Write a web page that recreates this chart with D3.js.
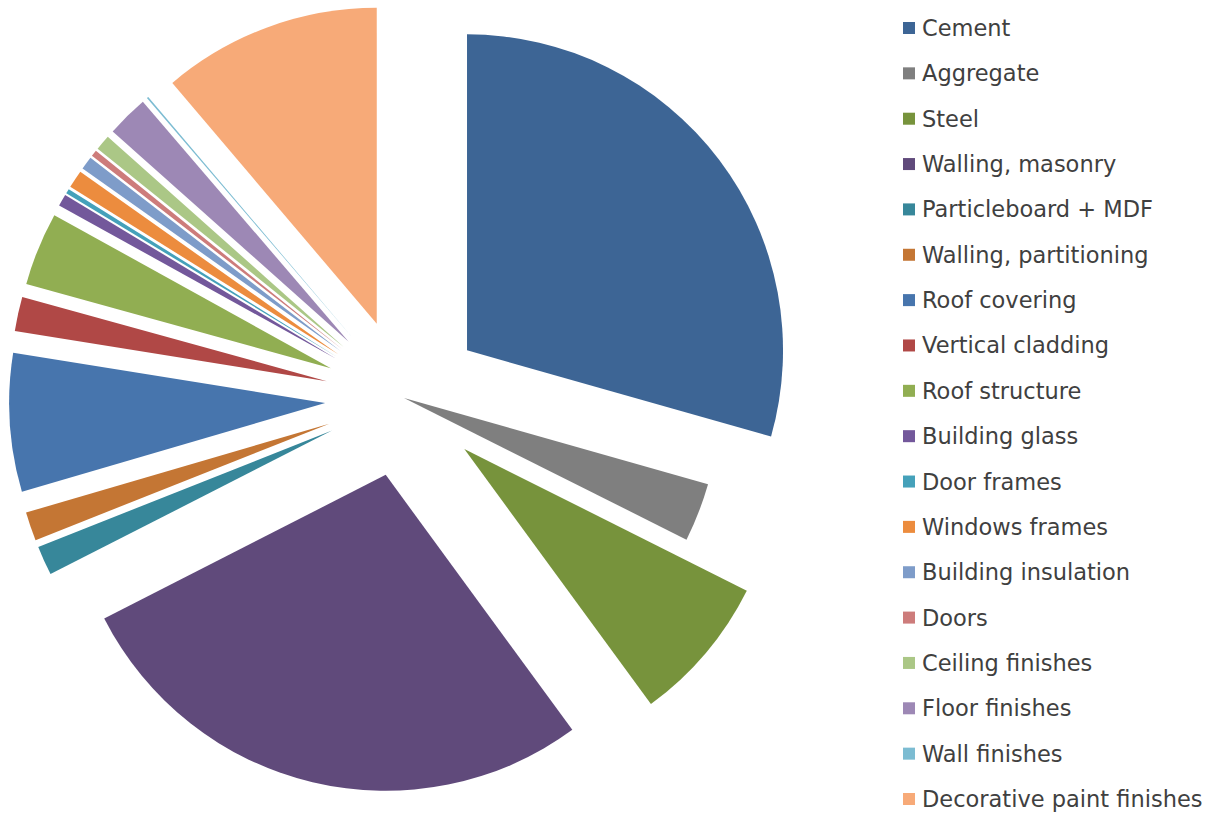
<!DOCTYPE html>
<html>
<head>
<meta charset="utf-8">
<script src="https://cdn.jsdelivr.net/npm/d3@7"></script>
<style>
  html, body { margin: 0; padding: 0; background: #ffffff; }
  svg { display: block; }
  .legend text { font-family: "DejaVu Sans", sans-serif; font-size: 22.5px; fill: #404040; }
</style>
</head>
<body>
<svg id="chart" width="1209" height="814"></svg>
<script>
// Embodied-energy share per material group (% of total)
const categories = [
  "Cement", "Aggregate", "Steel", "Walling, masonry", "Particleboard + MDF",
  "Walling, partitioning", "Roof covering", "Vertical cladding", "Roof structure",
  "Building glass", "Door frames", "Windows frames", "Building insulation",
  "Doors", "Ceiling finishes", "Floor finishes", "Wall finishes",
  "Decorative paint finishes"
];
const shares = [
  29.4, 3.0, 7.55, 27.55, 1.5,
  1.47, 7.08, 1.75, 3.75,
  0.61, 0.24, 0.91, 0.67,
  0.32, 0.79, 2.13, 0.09,
  11.2
];
const colors = [
  "#3d6595", "#7f7f7f", "#77933c", "#604a7b", "#37879a",
  "#c47634", "#4775ad", "#b04846", "#91ae52",
  "#73589b", "#45a1ba", "#ec8c3e", "#7e9cc9",
  "#cd7c7b", "#abc786", "#9d88b5", "#7cbcd2",
  "#f7aa78"
];
// Slice pull-out, as a fraction of the radius
const explode = [
  0.25, 0, 0.25, 0.25, 0.25,
  0.25, 0.25, 0.25, 0.25,
  0.25, 0.25, 0.25, 0.25,
  0.25, 0.25, 0.25, 0.25,
  0.25
];

const svg = d3.select("#chart");
const cx = 404, cy = 398, R = 316;

const pie = d3.pie().sort(null).value(d => d.value).startAngle(0).endAngle(2 * Math.PI);
const arc = d3.arc().innerRadius(0).outerRadius(R);

const data = categories.map((name, i) => ({ name, value: shares[i], color: colors[i], explode: explode[i] }));
const arcs = pie(data);

const g = svg.append("g").attr("transform", `translate(${cx},${cy})`);
g.selectAll("path.slice")
  .data(arcs)
  .join("path")
  .attr("class", "slice")
  .attr("d", arc)
  .attr("fill", d => d.data.color)
  .attr("transform", d => {
    const mid = (d.startAngle + d.endAngle) / 2;
    const off = d.data.explode * R;
    return `translate(${off * Math.sin(mid)},${-off * Math.cos(mid)})`;
  });

// Legend
const legendY = d3.scalePoint().domain(categories).range([28, 799]);
const legend = svg.append("g").attr("class", "legend");
const items = legend.selectAll("g")
  .data(data)
  .join("g")
  .attr("transform", d => `translate(903,${legendY(d.name)})`);
items.append("rect")
  .attr("x", 0).attr("y", -6)
  .attr("width", 12).attr("height", 12)
  .attr("fill", d => d.color);
items.append("text")
  .attr("x", 19).attr("y", 8)
  .text(d => d.name);
</script>
</body>
</html>
